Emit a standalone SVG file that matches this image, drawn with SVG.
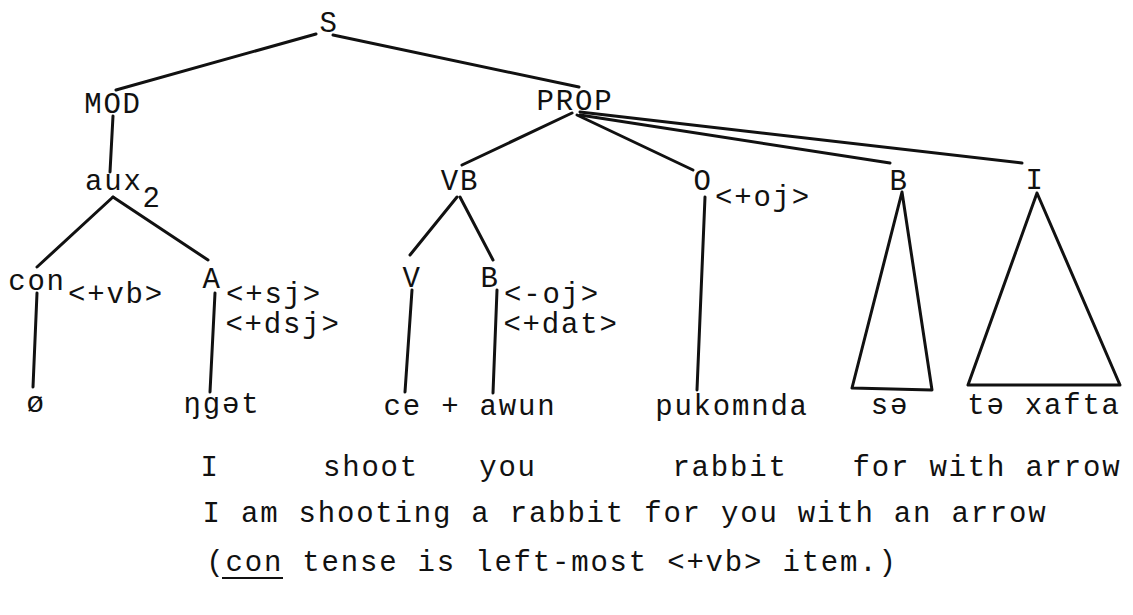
<svg xmlns="http://www.w3.org/2000/svg" width="1133" height="615" viewBox="0 0 1133 615">
  <style>
    text { font-family: "Liberation Mono", "DejaVu Sans Mono", monospace; font-size: 29px; letter-spacing: 1.8px; fill: #111; }
    .n { text-anchor: middle; }
    .edge { stroke: #111; stroke-width: 3; fill: none; stroke-linecap: round; stroke-linejoin: round; }
  </style>
  <rect width="1133" height="615" fill="#fff"/>

  <!-- branches of the tree -->
  <g id="connectors">
    <line class="edge" x1="316" y1="34" x2="116" y2="90"/>
    <line class="edge" x1="333" y1="35" x2="579" y2="87"/>
    <line class="edge" x1="113" y1="116" x2="110" y2="172"/>
    <line class="edge" x1="113" y1="197" x2="37" y2="267"/>
    <line class="edge" x1="113" y1="197" x2="208" y2="260"/>
    <line class="edge" x1="37" y1="293" x2="33" y2="387"/>
    <line class="edge" x1="215" y1="293" x2="210" y2="392"/>
    <line class="edge" x1="572" y1="113" x2="462" y2="165"/>
    <line class="edge" x1="577" y1="115" x2="693" y2="170"/>
    <line class="edge" x1="580" y1="115" x2="890" y2="163"/>
    <line class="edge" x1="580" y1="112" x2="1022" y2="163"/>
    <line class="edge" x1="457" y1="197" x2="410" y2="255"/>
    <line class="edge" x1="460" y1="197" x2="493" y2="260"/>
    <line class="edge" x1="412" y1="290" x2="405" y2="392"/>
    <line class="edge" x1="497" y1="290" x2="493" y2="393"/>
    <line class="edge" x1="705" y1="197" x2="697" y2="390"/>
    <polygon class="edge" points="902,192 852,388 932,390"/>
    <polygon class="edge" points="1037,193 968,385 1120,385"/>
  </g>

  <g id="node-S"><text class="n" x="329" y="32">S</text></g>
  <g id="node-MOD"><text class="n" x="113" y="113">MOD</text></g>
  <g id="node-PROP"><text class="n" x="575" y="110">PROP</text></g>
  <g id="node-aux2"><text x="85" y="190">aux<tspan dy="17">2</tspan></text></g>
  <g id="node-con">
    <text class="n" x="37" y="290">con</text>
    <text class="n" x="116" y="303">&lt;+vb&gt;</text>
  </g>
  <g id="node-A">
    <text class="n" x="212" y="288">A</text>
    <text class="n" x="274" y="303">&lt;+sj&gt;</text>
    <text class="n" x="283" y="333">&lt;+dsj&gt;</text>
  </g>
  <g id="node-null"><text class="n" x="36" y="412">ø</text></g>
  <g id="node-nget"><text class="n" x="222" y="413">ŋgət</text></g>
  <g id="node-VB"><text class="n" x="460" y="190">VB</text></g>
  <g id="node-V"><text class="n" x="412" y="287">V</text></g>
  <g id="node-B1">
    <text class="n" x="490" y="287">B</text>
    <text class="n" x="552" y="303">&lt;-oj&gt;</text>
    <text class="n" x="561" y="333">&lt;+dat&gt;</text>
  </g>
  <g id="node-ce-awun"><text class="n" x="470" y="415">ce + awun</text></g>
  <g id="node-O">
    <text class="n" x="703" y="190">O</text>
    <text class="n" x="763" y="206">&lt;+oj&gt;</text>
  </g>
  <g id="node-pukomnda"><text class="n" x="732" y="415">pukomnda</text></g>
  <g id="node-B2"><text class="n" x="899" y="190">B</text></g>
  <g id="node-se"><text class="n" x="890" y="414">sə</text></g>
  <g id="node-I"><text class="n" x="1035" y="189">I</text></g>
  <g id="node-texafta"><text class="n" x="1044" y="414">tə xafta</text></g>

  <!-- interlinear gloss, free translation and note -->
  <g id="gloss">
    <text class="n" x="210" y="476">I</text>
    <text class="n" x="371" y="476">shoot</text>
    <text class="n" x="508" y="476">you</text>
    <text class="n" x="730" y="476">rabbit</text>
    <text class="n" x="987" y="476">for with arrow</text>
  </g>
  <g id="translation">
    <text class="n" x="625" y="522">I am shooting a rabbit for you with an arrow</text>
  </g>
  <g id="note">
    <text class="n" x="552" y="571">(con tense is left-most &lt;+vb&gt; item.)</text>
    <line x1="222" y1="578" x2="283" y2="578" stroke="#111" stroke-width="2.2"/>
  </g>
</svg>
